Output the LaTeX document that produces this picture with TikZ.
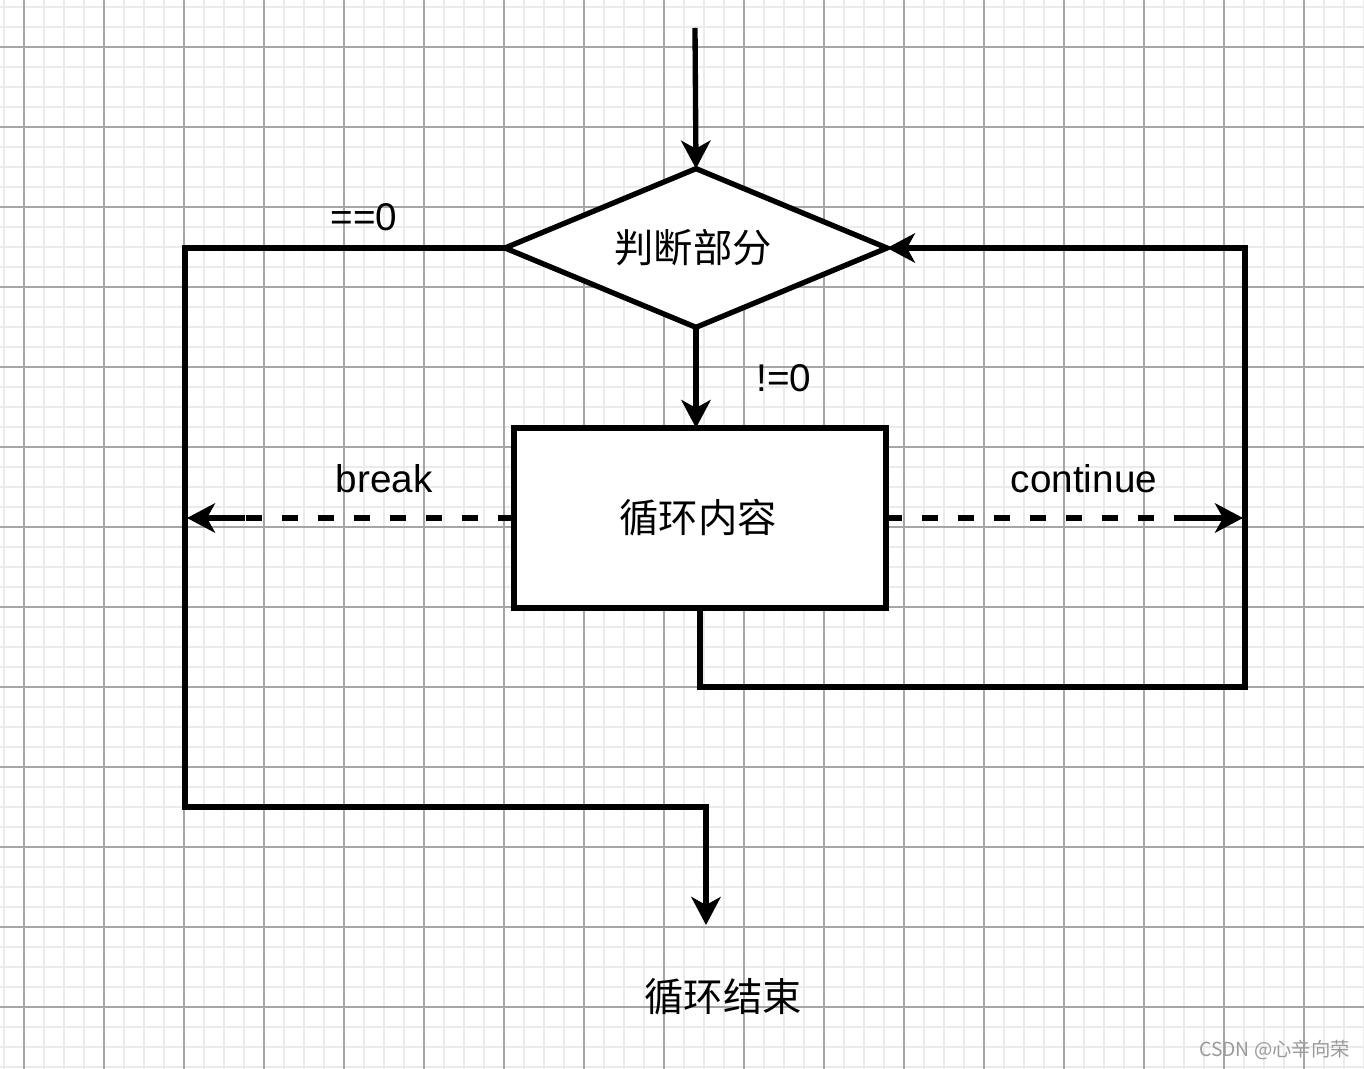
\documentclass[tikz,border=0pt]{standalone}
\usepackage{fontspec}
\setmainfont{Liberation Sans}
\newfontfamily\cjk{Noto Sans CJK SC}
\usetikzlibrary{shapes.geometric,arrows.meta}
\definecolor{minorgrid}{HTML}{EBEBEB}
\definecolor{majorgrid}{HTML}{A6A6A6}
\definecolor{wmark}{HTML}{9A9A9A}
\tikzset{
  flow/.style={line width=4pt, line join=miter, draw=black},
  tip/.style={-{Stealth[length=21pt,width=22pt,inset=6pt]}},
  dashline/.style={flow, dash pattern=on 12pt off 15pt},
  lbl/.style={font=\fontsize{29}{34}\selectfont, inner sep=0pt},
  cjklbl/.style={font=\cjk\fontsize{29.5}{34}\selectfont, inner sep=0pt},
}
\begin{document}
\begin{tikzpicture}[x=0.75pt,y=-0.75pt]
\useasboundingbox (0,0) rectangle (1364,1069);
\fill[white] (0,0) rectangle (1364,1069);
% grid
\foreach \x in {4,24,...,1364} \draw[minorgrid, line width=1.3pt] (\x,0) -- (\x,1069);
\foreach \y in {7,27,...,1069} \draw[minorgrid, line width=1.3pt] (0,\y) -- (1364,\y);
\foreach \x in {24,104,...,1364} \draw[majorgrid, line width=0.8pt] (\x,0) -- (\x,1069);
\foreach \y in {47,127,...,1069} \draw[majorgrid, line width=0.8pt] (0,\y) -- (1364,\y);

% nodes
\node[flow, shape=diamond, fill=white, aspect=2.4, minimum width=286.5pt, minimum height=119pt, inner sep=0pt, outer sep=0pt] (d) at (696,248) {};
\node[cjklbl] (dtext) at (693,248) {判断部分};
\node[flow, rectangle, fill=white, minimum width=279pt, minimum height=135pt, inner sep=0pt, outer sep=0pt] (body) at (700,518) {};
\node[cjklbl] (btext) at (698,518) {循环内容};

\coordinate (start) at (695,28);
\coordinate (l1) at (185,248);
\coordinate (l2) at (185,807);
\coordinate (l3) at (706,807);
\coordinate (endtip) at (706,925);
\coordinate (r1) at (700,687);
\coordinate (r2) at (1245,687);
\coordinate (r3) at (1245,248);
\coordinate (brk) at (187,518);
\coordinate (brksolid) at (245,518);
\coordinate (cnt) at (1243,518);
\coordinate (cntsolid) at (1183,518);

% connectors
\draw[flow, tip] (start) -- (d.north);
\draw[flow, tip] (d.south) -- (d.south |- body.north);
\draw[flow, tip] (d.west) -- (l1) -- (l2) -- (l3) -- (endtip);
\draw[flow, tip] (body.south) -- (r1) -- (r2) -- (r3) -- (d.east);
\draw[dashline] (body.west) -- (brksolid);
\draw[flow, tip] (brksolid) -- (brk);
\draw[dashline] (body.east) -- (cntsolid);
\draw[flow, tip] (cntsolid) -- (cnt);

% labels
\node[lbl] (eq0) at (364,217) {==0};
\node[lbl] (ne0) at (784,378) {!=0};
\node[lbl] (brklbl) at (384,479) {break};
\node[lbl] (cntlbl) at (1084,479) {continue};
\node[cjklbl] (endlbl) at (723,997) {循环结束};
\node[font=\cjk\fontsize{14.5}{17}\selectfont, text=wmark, inner sep=0pt, anchor=east] (wm) at (1350,1050) {CSDN @心辛向荣};
\end{tikzpicture}
\end{document}
